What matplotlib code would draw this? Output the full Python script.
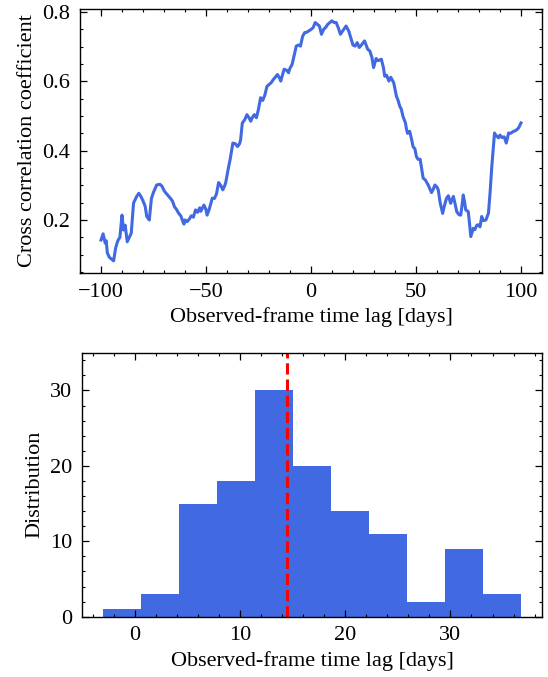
import numpy as np
import matplotlib
matplotlib.use("Agg")
import matplotlib.pyplot as plt
from matplotlib.ticker import MultipleLocator

# ---------------------------------------------------------
# DATA
# ---------------------------------------------------------
lag = [
    -100, -99, -98, -97.5, -97, -96, -95, -94, -93, -92, -91, -90, -89.3, -88.5,
    -87.5, -86.5, -85.6, -84.5, -83, -82, -81, -80, -79, -78.2, -77, -76, -75,
    -73.5, -72, -71, -70, -69, -68, -67, -66, -65, -64, -63, -62, -61, -60.5,
    -60, -59, -58, -57, -56, -55, -54, -53, -52.5, -51, -50, -49.5, -48.5, -47,
    -46, -45, -44, -43, -42, -41, -40.5, -39.5, -38.5, -37.2, -36, -35, -34,
    -33.5, -32.7, -31.5, -30.5, -29.5, -28.7, -28, -27, -26, -25, -24, -23, -22,
    -21, -20, -19, -18, -17, -16, -15, -14.4, -13.5, -12.8, -11.5, -10.7, -10,
    -9, -8, -7, -6, -5, -4, -3, -2, -1, 0, 1, 2, 3, 4, 5, 6, 7, 8, 9, 10, 11,
    12, 13, 14, 15, 16.7, 18, 19, 20, 21, 22, 23, 24, 25.5, 27, 28, 29, 29.8,
    31, 32, 33.5, 34.5, 35.1, 36, 37.1, 38, 39.4, 40.7, 41.5, 42.3, 43, 43.8,
    45, 45.5, 46, 47, 48, 48.6, 49.5, 50.2, 51, 52, 53.4, 54.5, 55.8, 57.4,
    58.3, 59, 60, 60.6, 61.5, 62.7, 63.5, 64.5, 65.4, 66.5, 67.8, 68.5, 69.4,
    70.5, 71.3, 72, 72.5, 73.2, 73.7, 74.9, 75.5, 76.1, 77.3, 78, 79, 79.7,
    80.5, 81.3, 82, 83.3, 84.5, 85.3, 86.1, 87.4, 88, 89.3, 90, 91, 92, 93,
    94.1, 95, 96.5, 97.5, 98.9, 100,
]
ccf = [
    0.142, 0.160, 0.133, 0.140, 0.105, 0.092, 0.087, 0.082, 0.120, 0.140, 0.150,
    0.214, 0.171, 0.185, 0.137, 0.150, 0.162, 0.249, 0.268, 0.277, 0.268, 0.255,
    0.240, 0.210, 0.200, 0.262, 0.280, 0.301, 0.303, 0.298, 0.285, 0.277, 0.270,
    0.263, 0.255, 0.238, 0.230, 0.219, 0.212, 0.195, 0.188, 0.200, 0.195, 0.202,
    0.212, 0.208, 0.229, 0.222, 0.235, 0.225, 0.243, 0.230, 0.214, 0.230, 0.263,
    0.262, 0.275, 0.308, 0.300, 0.287, 0.300, 0.311, 0.345, 0.375, 0.422, 0.420,
    0.412, 0.420, 0.432, 0.480, 0.490, 0.504, 0.495, 0.485, 0.495, 0.504, 0.495,
    0.520, 0.553, 0.545, 0.560, 0.585, 0.591, 0.596, 0.605, 0.612, 0.620, 0.610,
    0.601, 0.620, 0.635, 0.632, 0.625, 0.638, 0.649, 0.675, 0.702, 0.705, 0.702,
    0.730, 0.741, 0.742, 0.746, 0.750, 0.755, 0.770, 0.765, 0.760, 0.736, 0.750,
    0.756, 0.765, 0.770, 0.775, 0.770, 0.770, 0.755, 0.736, 0.745, 0.760, 0.745,
    0.725, 0.705, 0.702, 0.712, 0.698, 0.705, 0.717, 0.693, 0.688, 0.670, 0.640,
    0.666, 0.660, 0.664, 0.640, 0.615, 0.618, 0.601, 0.612, 0.596, 0.557, 0.545,
    0.528, 0.520, 0.499, 0.480, 0.461, 0.450, 0.456, 0.430, 0.412, 0.405, 0.383,
    0.375, 0.375, 0.321, 0.315, 0.301, 0.279, 0.290, 0.301, 0.295, 0.287, 0.250,
    0.219, 0.240, 0.262, 0.270, 0.248, 0.268, 0.250, 0.224, 0.215, 0.214, 0.245,
    0.272, 0.250, 0.229, 0.224, 0.190, 0.152, 0.176, 0.172, 0.185, 0.186, 0.180,
    0.210, 0.198, 0.200, 0.219, 0.280, 0.354, 0.451, 0.445, 0.437, 0.445, 0.438,
    0.440, 0.422, 0.451, 0.450, 0.456, 0.458, 0.466, 0.480,
]

# histogram of lags (bin edges and counts)
bin_edges = [-3.0, 0.61, 4.22, 7.83, 11.44, 15.05, 18.66, 22.27, 25.88, 29.49, 33.10, 36.71]
counts = [1, 3, 15, 18, 30, 20, 14, 11, 2, 9, 3]
lag_median = 14.5

# ---------------------------------------------------------
# STYLE
# ---------------------------------------------------------
plt.rcParams["font.family"] = ["Liberation Serif", "DejaVu Serif"]
plt.rcParams["font.size"] = 16
plt.rcParams["mathtext.fontset"] = "stix"
for ax_name in ["xtick", "ytick"]:
    plt.rcParams[ax_name + ".direction"] = "in"
    plt.rcParams[ax_name + ".major.size"] = 5
    plt.rcParams[ax_name + ".minor.size"] = 2.5
    plt.rcParams[ax_name + ".major.width"] = 0.9
    plt.rcParams[ax_name + ".minor.width"] = 0.8
    plt.rcParams[ax_name + ".minor.visible"] = True
    plt.rcParams[ax_name + ".labelsize"] = 16
    plt.rcParams[ax_name + ".major.pad"] = 7
plt.rcParams["xtick.top"] = True
plt.rcParams["ytick.right"] = True
plt.rcParams["axes.linewidth"] = 1.0

fig = plt.figure(figsize=(5.48, 6.77), dpi=100)

# ---------------------------------------------------------
# PLOT 1: CCF
# ---------------------------------------------------------
ax1 = fig.add_axes([0.146, 0.597, 0.843, 0.390])
ax1.plot(lag, ccf, color="royalblue", linewidth=2.2)
ax1.set_xlabel("Observed-frame time lag [days]")
ax1.set_ylabel("Cross correlation coefficient")
ax1.xaxis.set_major_locator(MultipleLocator(50))
ax1.xaxis.set_minor_locator(MultipleLocator(10))
ax1.yaxis.set_major_locator(MultipleLocator(0.2))
ax1.yaxis.set_minor_locator(MultipleLocator(0.05))

# ---------------------------------------------------------
# PLOT 2: Histogram
# ---------------------------------------------------------
ax2 = fig.add_axes([0.150, 0.089, 0.839, 0.390])
ax2.hist(bin_edges[:-1], bins=bin_edges, weights=counts, color="royalblue")
ax2.axvline(lag_median, color="red", linestyle="--", linewidth=2.2)
ax2.set_ylim(0, 35)
ax2.set_xlabel("Observed-frame time lag [days]")
ax2.set_ylabel("Distribution")
ax2.xaxis.set_major_locator(MultipleLocator(10))
ax2.xaxis.set_minor_locator(MultipleLocator(2))
ax2.yaxis.set_major_locator(MultipleLocator(10))
ax2.yaxis.set_minor_locator(MultipleLocator(2))

fig.savefig("out.png", dpi=100)
